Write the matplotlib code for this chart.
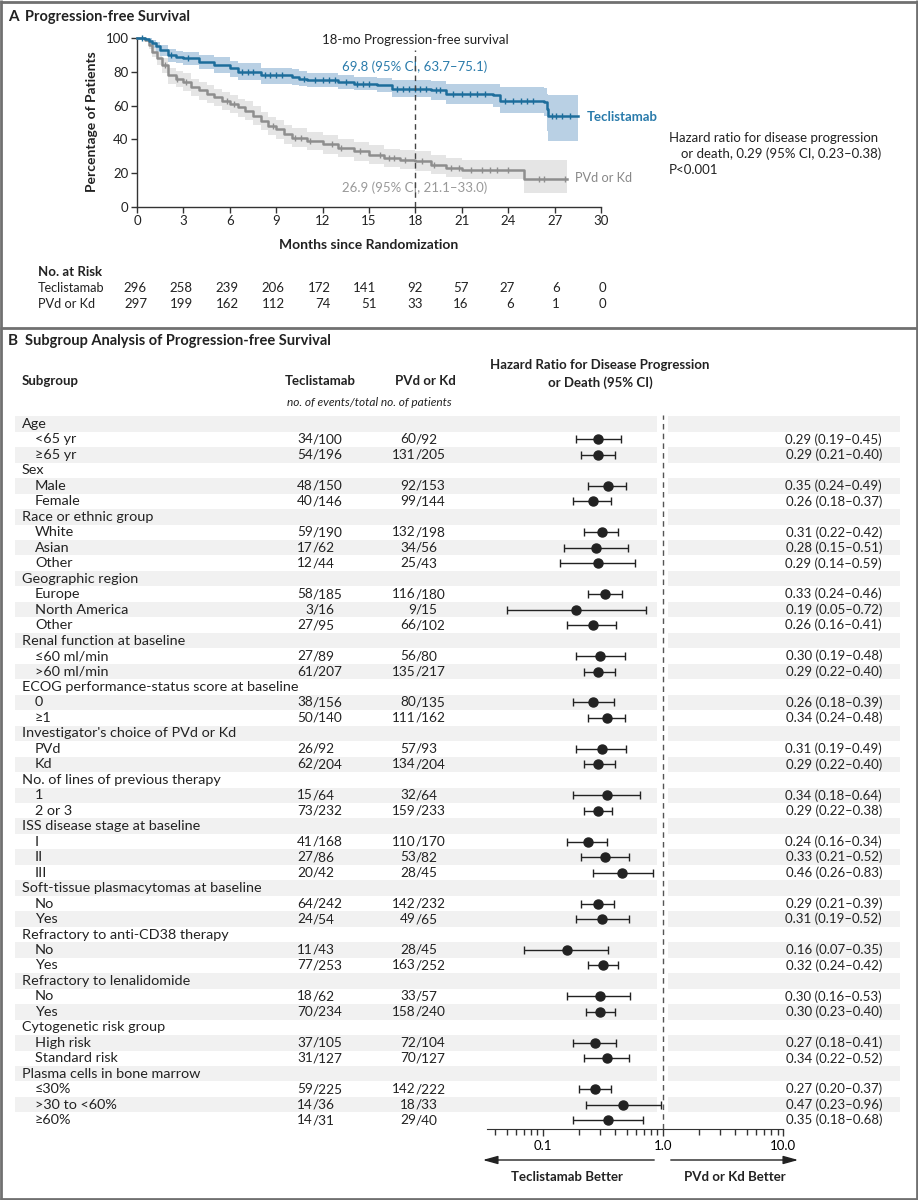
import numpy as np
import matplotlib
matplotlib.use("Agg")
import matplotlib.pyplot as plt
import matplotlib.ticker as mticker

plt.rcParams['font.family'] = ['Lato', 'DejaVu Sans']

# -------------------------------
# Data: Kaplan-Meier (panel A)
# -------------------------------
tec_t = [0, 0.5, 0.8, 1.0, 1.2, 1.5, 2.0, 2.5, 3, 4, 5, 6, 6.5, 8, 10, 10.5, 11, 13, 14, 15.5,
         16.5, 19, 20, 23, 23.5, 26.3, 26.5, 26.6]
tec_s = [100, 99.5, 98.5, 97, 95, 93, 90, 89, 88, 86, 84, 82, 80, 78, 77, 76, 75, 74, 73, 72,
         70, 69, 67, 66, 63, 62, 58, 54]
tec_hi = [100, 100, 100, 99, 97.5, 96, 93.5, 92.5, 91.5, 90, 88.5, 86.5, 85, 82.5, 81.5, 80.5, 79, 78, 77, 76.5,
          75, 74.5, 73, 72.5, 71, 70.5, 67, 66.5]
tec_lo = [100, 98, 96, 94, 92, 89.5, 86, 85, 84, 81.5, 79, 77, 75, 73, 72, 71.5, 71, 70, 69, 68,
          65, 63.5, 61, 59, 55.5, 54, 45, 39]
tec_end = 28.5
tec_cens = [0.3, 2.2, 3.3, 6.8, 7.2, 7.5, 8.3, 8.6, 9.0, 9.4, 10.8, 11.5, 12.0, 12.4, 12.8, 13.5, 14.2,
            14.6, 15.0, 16.8, 17.2, 17.6, 18.0, 18.3, 18.7, 19.3, 19.6, 20.4, 21.0, 21.5, 22.0, 22.5,
            23.8, 24.3, 24.8, 25.2, 25.6, 26.8, 27.1, 27.5, 28.0]

pvd_t = [0, 0.5, 0.8, 1.0, 1.3, 1.6, 2.0, 2.5, 3, 3.5, 4, 4.5, 5, 5.5, 6, 6.5, 7, 7.5, 8, 8.5,
         9, 9.5, 10, 11, 12, 13, 14, 15, 16, 17, 18, 19, 20, 21, 25]
pvd_s = [100, 99, 96, 92, 88, 84, 78, 76, 74, 71, 69, 67, 65, 63, 61, 59, 57, 54, 51, 48,
         46, 43, 41, 39, 37, 35, 33, 31, 29, 28, 27, 25, 23, 22, 16.5]
pvd_hi = [100, 100, 98.5, 95, 91.5, 88, 82.5, 80.5, 79, 76, 74, 72, 70, 68, 66, 64, 62.5, 59.5, 56.5, 53.5,
          51.5, 48.5, 46.5, 44.5, 42.5, 40.5, 38.5, 36.5, 34.5, 33.5, 33, 31, 29, 28, 28]
pvd_lo = [100, 97.5, 93.5, 88.5, 84, 79.5, 73, 71, 68.5, 65.5, 63.5, 61.5, 59.5, 57.5, 55.5, 53.5, 51.5, 48.5, 45.5, 42.5,
          40.5, 37.5, 35.5, 33.5, 31.5, 29.5, 27.5, 25.5, 23.5, 22.5, 21.1, 19.5, 17.5, 16.5, 8]
pvd_end = 27.8
pvd_cens = [1.8, 2.6, 3.2, 5.8, 6.3, 8.8, 10.2, 10.6, 11.2, 12.6, 13.2, 14.4, 15.7, 16.3, 16.6, 17.3,
            18.4, 19.2, 20.3, 20.8, 21.6, 22.3, 22.8, 23.3, 24.0, 26.0, 26.3, 27.7]

risk_months = [0, 3, 6, 9, 12, 15, 18, 21, 24, 27, 30]
risk_tec = [296, 258, 239, 206, 172, 141, 92, 57, 27, 6, 0]
risk_pvd = [297, 199, 162, 112, 74, 51, 33, 16, 6, 1, 0]

# -------------------------------
# Data: subgroup forest (panel B)
# -------------------------------
sub_labels = ["Age", "<65 yr", "≥65 yr", "Sex", "Male", "Female", "Race or ethnic group", "White", "Asian", "Other",
              "Geographic region", "Europe", "North America", "Other", "Renal function at baseline", "≤60 ml/min",
              ">60 ml/min", "ECOG performance-status score at baseline", "0", "≥1",
              "Investigator's choice of PVd or Kd", "PVd", "Kd", "No. of lines of previous therapy", "1", "2 or 3",
              "ISS disease stage at baseline", "I", "II", "III", "Soft-tissue plasmacytomas at baseline", "No", "Yes",
              "Refractory to anti-CD38 therapy", "No", "Yes", "Refractory to lenalidomide", "No", "Yes",
              "Cytogenetic risk group", "High risk", "Standard risk", "Plasma cells in bone marrow", "≤30%",
              ">30 to <60%", "≥60%"]
tec_events = [None, "34/100", "54/196", None, "48/150", "40/146", None, "59/190", "17/62", "12/44",
              None, "58/185", "3/16", "27/95", None, "27/89", "61/207", None, "38/156", "50/140",
              None, "26/92", "62/204", None, "15/64", "73/232", None, "41/168", "27/86", "20/42",
              None, "64/242", "24/54", None, "11/43", "77/253", None, "18/62", "70/234",
              None, "37/105", "31/127", None, "59/225", "14/36", "14/31"]
pvd_events = [None, "60/92", "131/205", None, "92/153", "99/144", None, "132/198", "34/56", "25/43",
              None, "116/180", "9/15", "66/102", None, "56/80", "135/217", None, "80/135", "111/162",
              None, "57/93", "134/204", None, "32/64", "159/233", None, "110/170", "53/82", "28/45",
              None, "142/232", "49/65", None, "28/45", "163/252", None, "33/57", "158/240",
              None, "72/104", "70/127", None, "142/222", "18/33", "29/40"]
nan = np.nan
hr = [nan, 0.29, 0.29, nan, 0.35, 0.26, nan, 0.31, 0.28, 0.29, nan, 0.33, 0.19, 0.26, nan, 0.30, 0.29,
      nan, 0.26, 0.34, nan, 0.31, 0.29, nan, 0.34, 0.29, nan, 0.24, 0.33, 0.46, nan, 0.29, 0.31,
      nan, 0.16, 0.32, nan, 0.30, 0.30, nan, 0.27, 0.34, nan, 0.27, 0.47, 0.35]
hr_lo = [nan, 0.19, 0.21, nan, 0.24, 0.18, nan, 0.22, 0.15, 0.14, nan, 0.24, 0.05, 0.16, nan, 0.19, 0.22,
         nan, 0.18, 0.24, nan, 0.19, 0.22, nan, 0.18, 0.22, nan, 0.16, 0.21, 0.26, nan, 0.21, 0.19,
         nan, 0.07, 0.24, nan, 0.16, 0.23, nan, 0.18, 0.22, nan, 0.20, 0.23, 0.18]
hr_hi = [nan, 0.45, 0.40, nan, 0.49, 0.37, nan, 0.42, 0.51, 0.59, nan, 0.46, 0.72, 0.41, nan, 0.48, 0.40,
         nan, 0.39, 0.48, nan, 0.49, 0.40, nan, 0.64, 0.38, nan, 0.34, 0.52, 0.83, nan, 0.39, 0.52,
         nan, 0.35, 0.42, nan, 0.53, 0.40, nan, 0.41, 0.52, nan, 0.37, 0.96, 0.68]

# -------------------------------
# Styles
# -------------------------------
BLUE = "#1d6d9b"
BLUE_TXT = "#2a7bab"
BLUE_BAND = "#b9d0e4"
GRAY = "#8e8e8e"
GRAY_BAND = "#e5e5e5"
DARK = "#222222"
BORDER = "#707070"
FS = 9.5        # general text
FS_LAB = 10.4   # subgroup names
FS_NUM = 9.8    # event counts

W, H = 918, 1200
fig = plt.figure(figsize=(W / 100, H / 100), dpi=100)
fig.patch.set_facecolor("white")

# background axes in pixel coordinates for text, bands and frame
bg = fig.add_axes([0, 0, 1, 1])
bg.set_xlim(0, W)
bg.set_ylim(H, 0)
bg.axis("off")


def px_axes(x0, y0, x1, y1):
    return fig.add_axes([x0 / W, 1 - y1 / H, (x1 - x0) / W, (y1 - y0) / H])


def txt(x, y, s, **kw):
    kw.setdefault("fontsize", FS)
    kw.setdefault("color", DARK)
    kw.setdefault("va", "center")
    bg.text(x, y, s, **kw)


# frame
for yy in [1.5, 328, 1198.5]:
    bg.plot([0, W], [yy, yy], color=BORDER, lw=2, solid_capstyle="butt")
for xx in [1, W - 1]:
    bg.plot([xx, xx], [0, H], color=BORDER, lw=2, solid_capstyle="butt")

# -------------------------------
# Panel A
# -------------------------------
txt(8, 17, "A", fontsize=11, fontweight="bold")
txt(25, 17, "Progression-free Survival", fontsize=10.5, fontweight="bold")

ax = px_axes(137, 38, 601, 207)
ax.set_facecolor("none")


def km(t, s, lo, hi, end, cens, line_col, band_col):
    tt = np.append(t, end)
    ax.fill_between(tt, np.append(lo, lo[-1]), np.append(hi, hi[-1]), step="post",
                    color=band_col, lw=0, zorder=1)
    ax.step(tt, np.append(s, s[-1]), where="post", color=line_col, lw=1.8, zorder=3, clip_on=False)
    idx = np.searchsorted(t, cens, side="right") - 1
    ax.plot(cens, np.array(s)[idx], ls="none", marker="|", ms=5, mew=1, color=line_col, zorder=4,
            clip_on=False)


km(pvd_t, pvd_s, pvd_lo, pvd_hi, pvd_end, pvd_cens, GRAY, GRAY_BAND)
km(tec_t, tec_s, tec_lo, tec_hi, tec_end, tec_cens, BLUE, BLUE_BAND)
ax.plot([18, 18], [0, 93], color="#444444", lw=1, ls=(0, (4, 3)), zorder=5)

ax.set_xlim(0, 30)
ax.set_ylim(0, 100)
ax.set_xticks(range(0, 31, 3))
ax.set_yticks(range(0, 101, 20))
for sp in ["top", "right"]:
    ax.spines[sp].set_visible(False)
for sp in ["left", "bottom"]:
    ax.spines[sp].set_color("#333333")
    ax.spines[sp].set_linewidth(1)
ax.tick_params(direction="out", length=4, width=1, color="#333333", labelsize=FS, labelcolor=DARK, pad=2)

txt(92, 122, "Percentage of Patients", fontsize=10, fontweight="bold", rotation=90, ha="center")
txt(369, 245, "Months since Randomization", fontsize=10, fontweight="bold", ha="center")
txt(415, 40, "18-mo Progression-free survival", ha="center")
txt(415, 67, "69.8 (95% CI, 63.7–75.1)", ha="center", color=BLUE_TXT)
txt(415, 188, "26.9 (95% CI, 21.1–33.0)", ha="center", color="#999999")
txt(587, 117, "Teclistamab", fontweight="bold", color=BLUE_TXT, fontsize=9.5)
txt(575, 178, "PVd or Kd", color="#888888", fontsize=9.2)
txt(669, 138, "Hazard ratio for disease progression")
txt(681, 154, "or death, 0.29 (95% CI, 0.23–0.38)")
txt(669, 170, "P<0.001")

# number at risk
txt(38, 272, "No. at Risk", fontweight="bold")
txt(38, 288, "Teclistamab", fontsize=9.2)
txt(38, 304, "PVd or Kd", fontsize=9.2)
for m, a, b in zip(risk_months, risk_tec, risk_pvd):
    xr = 147 + m / 3 * 45.9
    txt(xr, 288, str(a), ha="right")
    txt(xr, 304, str(b), ha="right")

# -------------------------------
# Panel B
# -------------------------------
txt(8, 341, "B", fontsize=11, fontweight="bold")
txt(25, 341, "Subgroup Analysis of Progression-free Survival", fontsize=10.5, fontweight="bold")
txt(22, 381, "Subgroup", fontweight="bold")
txt(320, 381, "Teclistamab", fontweight="bold", ha="center")
txt(425, 381, "PVd or Kd", fontweight="bold", ha="center")
txt(369, 402, "no. of events/total no. of patients", style="italic", ha="center", fontsize=8.6)
txt(600, 365, "Hazard Ratio for Disease Progression", fontweight="bold", ha="center")
txt(600, 383, "or Death (95% CI)", fontweight="bold", ha="center")

ROW0, DROW = 424, 15.47
AX_X0, AX_X1, AX_Y1 = 487, 783, 1129
n_rows = len(sub_labels)

for i, lab in enumerate(sub_labels):
    y = ROW0 + i * DROW
    if i % 2 == 0:
        bg.fill_between([15, 657], y - DROW / 2, y + DROW / 2, color="#f1f1f1", lw=0, zorder=0)
        bg.fill_between([668, 900], y - DROW / 2, y + DROW / 2, color="#f1f1f1", lw=0, zorder=0)
    if tec_events[i] is None:
        txt(22, y, lab, fontsize=FS_LAB)
        continue
    txt(35, y, lab, fontsize=FS_LAB)
    for s, xs in [(tec_events[i], 313), (pvd_events[i], 416)]:
        num, den = s.split("/")
        txt(xs, y, num, ha="right", fontsize=FS_NUM)
        txt(xs, y, "/" + den, ha="left", fontsize=FS_NUM)
    txt(882, y, f"{hr[i]:.2f} ({hr_lo[i]:.2f}–{hr_hi[i]:.2f})", ha="right")

# forest axes: rows as y data
row_idx = np.arange(n_rows)
y_top = -0.55
y_bot = (AX_Y1 - ROW0) / DROW
axf = px_axes(AX_X0, ROW0 + y_top * DROW, AX_X1, AX_Y1)
axf.set_facecolor("none")
axf.set_xscale("log")
axf.set_xlim(0.0344, 10)
axf.set_ylim(y_bot, y_top)
hr_a = np.array(hr)
err = [hr_a - np.array(hr_lo), np.array(hr_hi) - hr_a]
axf.errorbar(hr_a, row_idx, xerr=err, fmt="o", color=DARK, ms=6.5, elinewidth=1,
             capsize=3, capthick=1, zorder=3)
axf.axvline(1, color="#555555", lw=1, ls=(0, (4, 3)), zorder=2)
for sp in ["top", "right", "left"]:
    axf.spines[sp].set_visible(False)
axf.spines["bottom"].set_color("#333333")
axf.set_yticks([])
axf.xaxis.set_major_locator(mticker.FixedLocator([0.1, 1, 10]))
axf.xaxis.set_major_formatter(mticker.FixedFormatter(["0.1", "1.0", "10.0"]))
axf.xaxis.set_minor_locator(mticker.LogLocator(base=10, subs=np.arange(2, 10)))
axf.xaxis.set_minor_formatter(mticker.NullFormatter())
axf.tick_params(axis="x", which="major", length=5, width=1, color="#333333", labelsize=FS, pad=3)
axf.tick_params(axis="x", which="minor", length=4, width=1, color="#333333")

# direction arrows
bg.annotate("", xy=(480, 1160), xytext=(657, 1160),
            arrowprops=dict(arrowstyle="-|>,head_length=0.9,head_width=0.25", color=DARK, lw=1))
bg.annotate("", xy=(801, 1160), xytext=(668, 1160),
            arrowprops=dict(arrowstyle="-|>,head_length=0.9,head_width=0.25", color=DARK, lw=1))
txt(567, 1177, "Teclistamab Better", fontweight="bold", ha="center")
txt(735, 1177, "PVd or Kd Better", fontweight="bold", ha="center")

fig.savefig("out.png", dpi=100)
